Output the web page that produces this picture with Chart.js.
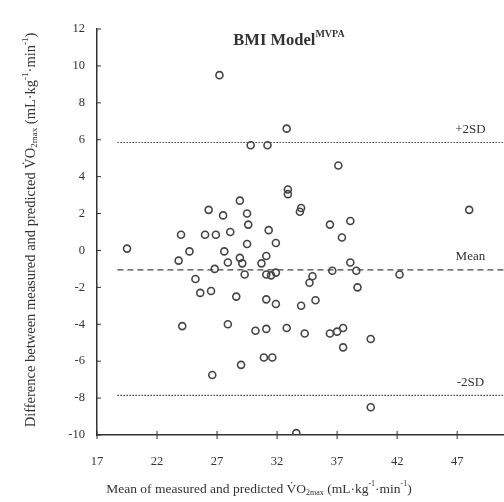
<!DOCTYPE html>
<html>
<head>
<meta charset="utf-8">
<script src="https://cdn.jsdelivr.net/npm/chart.js@4.4.1/dist/chart.umd.min.js"></script>
<style>
html, body { margin: 0; padding: 0; background: #fff; }
</style>
</head>
<body>
<canvas id="myChart" width="504" height="502"></canvas>
<script>
// mean of measured and predicted VO2max (x) vs difference (y)
const meanX = [19.5, 23.8, 24.0, 24.1, 24.7, 25.2, 25.6, 26.5, 26.6, 26.0,
  26.9, 26.3, 26.8, 27.2, 27.5, 27.6, 27.9, 27.9, 28.1, 28.6,
  28.9, 28.9, 29.1, 29.0, 29.3, 29.5, 29.5, 29.6, 29.8, 30.2,
  30.7, 30.9, 31.1, 31.1, 31.1, 31.1, 31.2, 31.3, 31.6, 31.5,
  31.9, 31.9, 31.9, 32.8, 32.8, 32.9, 32.9, 33.6, 34.0, 33.9,
  34.0, 34.3, 34.7, 34.95, 35.2, 36.4, 36.4, 36.6, 37.0, 37.1,
  37.4, 37.5, 37.5, 38.1, 38.1, 38.6, 38.7, 39.8, 39.8, 42.2, 48.0];
const diffY = [0.1, -0.55, 0.85, -4.1, -0.05, -1.55, -2.3, -2.2, -6.75, 0.85,
  0.85, 2.2, -1.0, 9.5, 1.9, -0.05, -0.65, -4.0, 1.0, -2.5,
  2.7, -0.4, -0.7, -6.2, -1.3, 0.35, 2.0, 1.4, 5.7, -4.35,
  -0.7, -5.8, -0.3, -1.3, -2.65, -4.25, 5.7, 1.1, -5.8, -1.35,
  -1.2, 0.4, -2.9, 6.6, -4.2, 3.3, 3.05, -9.9, 2.3, 2.1,
  -3.0, -4.5, -1.75, -1.4, -2.7, 1.4, -4.5, -1.1, -4.4, 4.6,
  0.7, -4.2, -5.25, 1.6, -0.65, -1.1, -2.0, -4.8, -8.5, -1.3, 2.2];

const xTicks = [17, 22, 27, 32, 37, 42, 47];
const yTicks = [-10, -8, -6, -4, -2, 0, 2, 4, 6, 8, 10, 12];

const limitNames = ["+2SD", "Mean", "-2SD"];
const limitValues = [5.85, -1.05, -7.85];
const limitStart = 18.7;
const xMin = 17, xMax = 50.9, yMin = -10, yMax = 12;

const ink = "#333";
const serif = "'Liberation Serif', 'Times New Roman', serif";

function drawRich(ctx, parts, x, y, size, weight) {
  const fontOf = p => weight + " " + (p.k ? Math.round(size * 0.62) : size) + "px " + serif;
  let w = 0;
  parts.forEach(p => { ctx.font = fontOf(p); w += ctx.measureText(p.t).width; });
  let cx = x - w / 2;
  parts.forEach(p => {
    ctx.font = fontOf(p);
    const dy = p.k === "sub" ? size * 0.28 : p.k === "sup" ? -size * 0.38 : 0;
    ctx.fillText(p.t, cx, y + dy);
    cx += ctx.measureText(p.t).width;
  });
}

const units = [
  { t: " (mL·kg" }, { t: "-1", k: "sup" }, { t: "·min" }, { t: "-1", k: "sup" }, { t: ")" }
];

const textPlugin = {
  id: "texts",
  afterDraw(chart) {
    const ctx = chart.ctx;
    const xs = chart.scales.x, ys = chart.scales.y;
    const area = chart.chartArea;
    ctx.save();
    ctx.fillStyle = ink;
    ctx.strokeStyle = ink;
    ctx.textBaseline = "middle";
    ctx.textAlign = "left";

    // tick marks
    ctx.lineWidth = 1;
    ctx.beginPath();
    yTicks.forEach(v => {
      const py = ys.getPixelForValue(v);
      ctx.moveTo(area.left, py); ctx.lineTo(area.left + 4, py);
    });
    xTicks.forEach(v => {
      const px = xs.getPixelForValue(v);
      ctx.moveTo(px, area.bottom - 4); ctx.lineTo(px, area.bottom + 4);
    });
    ctx.stroke();

    // title
    drawRich(ctx, [{ t: "BMI Model" }, { t: "MVPA", k: "sup" }], 289, 41, 16.5, "bold");

    // limit labels
    limitNames.forEach((name, i) => {
      const py = ys.getPixelForValue(limitValues[i]) - 13;
      drawRich(ctx, [{ t: name }], xs.getPixelForValue(48.1), py, 13, "normal");
    });

    // x axis title
    drawRich(ctx, [{ t: "Mean of measured and predicted V\u0307O" }, { t: "2max", k: "sub" }].concat(units),
      259, 489, 13.5, "normal");

    // y axis title
    ctx.translate(31, 230);
    ctx.rotate(-Math.PI / 2);
    drawRich(ctx, [{ t: "Difference between measured and predicted V\u0307O" }, { t: "2max", k: "sub" }].concat(units),
      0, 0, 14.5, "normal");
    ctx.restore();
  }
};

const lineSets = limitValues.map((v, i) => ({
  label: limitNames[i],
  type: "line",
  data: [{ x: limitStart, y: v }, { x: xMax, y: v }],
  borderColor: "#444",
  borderWidth: i === 1 ? 1.3 : 1.2,
  borderDash: i === 1 ? [6, 4] : [1.5, 1.5],
  pointRadius: 0,
  fill: false
}));

const ctx = document.getElementById("myChart").getContext("2d");
new Chart(ctx, {
  type: "scatter",
  data: {
    datasets: [{
      label: "points",
      data: meanX.map((x, i) => ({ x: x, y: diffY[i] })),
      pointStyle: "circle",
      pointRadius: 3.5,
      pointBorderWidth: 1.6,
      borderColor: "#444",
      backgroundColor: "rgba(0,0,0,0)"
    }].concat(lineSets)
  },
  options: {
    responsive: false,
    animation: false,
    layout: { autoPadding: false, padding: { top: 29, right: 0, left: 0, bottom: 0 } },
    plugins: {
      legend: { display: false },
      tooltip: { enabled: false }
    },
    scales: {
      x: {
        type: "linear",
        min: xMin,
        max: xMax,
        afterBuildTicks: axis => { axis.ticks = xTicks.map(v => ({ value: v })); },
        afterFit: axis => { axis.height = 67; axis.paddingRight = 0; axis.paddingLeft = 0; },
        grid: { display: false, drawTicks: false },
        border: { display: true, color: ink, width: 1.5 },
        ticks: {
          padding: 19,
          color: ink,
          font: { family: serif, size: 12.5 },
          maxRotation: 0
        }
      },
      y: {
        type: "linear",
        min: yMin,
        max: yMax,
        afterBuildTicks: axis => { axis.ticks = yTicks.map(v => ({ value: v })); },
        afterFit: axis => { axis.width = 97; },
        grid: { display: false, drawTicks: false },
        border: { display: true, color: ink, width: 1.5 },
        ticks: {
          padding: 12,
          color: ink,
          font: { family: serif, size: 12.5 }
        }
      }
    }
  },
  plugins: [textPlugin]
});
</script>
</body>
</html>
